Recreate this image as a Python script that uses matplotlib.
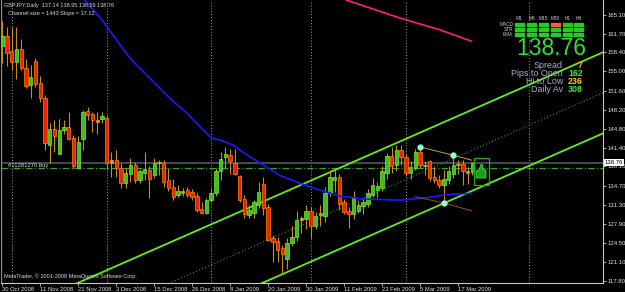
import numpy as np
import matplotlib.pyplot as plt
from matplotlib.patches import Rectangle, Polygon
import matplotlib.transforms as mtransforms

plt.rcParams['font.family'] = ['Liberation Sans', 'DejaVu Sans']

# daily GBPJPY bars, 30 Oct 2008 .. 20 Mar 2009
opens = [159.5, 161.3, 158.6, 156.6, 159.0, 155.6, 152.6, 156.9, 153.0, 150.2,
         142.0, 144.8, 140.4, 144.6, 145.1, 143.1, 137.9, 142.9, 148.0, 147.4,
         146.4, 146.5, 146.8, 138.8, 139.2, 137.8, 135.2, 136.7, 138.4, 135.7,
         137.0, 137.5, 136.5, 138.9, 138.8, 135.6, 134.4, 133.0, 133.7, 133.9,
         133.5, 132.8, 130.5, 129.8, 132.2, 133.4, 137.2, 139.8, 140.2, 138.8,
         136.4, 132.3, 129.5, 129.9, 131.2, 134.9, 130.8, 125.3, 124.9, 123.5,
         121.6, 124.4, 125.5, 128.6, 128.7, 130.2, 127.5, 129.4, 129.2, 133.3,
         135.6, 136.3, 131.7, 130.2, 129.6, 130.2, 131.1, 131.5, 133.0, 133.9,
         134.2, 136.9, 140.0, 138.4, 141.0, 139.7, 137.0, 137.9, 140.7, 138.3,
         139.0, 136.2, 135.6, 134.8, 135.7, 136.7, 138.5, 138.5, 137.2, 137.14]
highs = [164.0, 163.0, 163.0, 163.0, 160.8, 157.3, 156.1, 157.4, 154.2, 150.8,
         145.8, 146.4, 146.5, 146.4, 147.8, 143.7, 143.5, 148.1, 148.7, 147.7,
         147.8, 147.8, 147.3, 140.7, 141.1, 138.7, 137.8, 139.6, 138.9, 137.6,
         140.7, 138.1, 139.6, 139.3, 139.2, 137.8, 135.8, 134.8, 134.2, 134.5,
         134.0, 133.3, 131.8, 132.5, 134.2, 137.8, 140.7, 141.6, 141.2, 141.2,
         136.5, 133.0, 131.3, 132.2, 135.4, 136.3, 131.5, 125.9, 125.5, 124.1,
         125.4, 127.5, 130.1, 129.3, 131.3, 130.8, 130.0, 131.3, 134.4, 137.4,
         137.5, 136.8, 132.3, 130.8, 133.8, 132.0, 132.4, 134.0, 136.0, 135.3,
         138.2, 140.5, 141.6, 141.9, 141.9, 140.4, 139.0, 141.2, 141.6, 139.1,
         139.3, 138.0, 136.5, 137.5, 138.1, 140.1, 139.2, 139.2, 138.0, 138.95]
lows = [156.5, 156.0, 155.3, 153.6, 155.3, 152.0, 150.2, 152.3, 149.6, 141.0,
        138.8, 140.7, 140.4, 143.9, 142.8, 137.6, 137.8, 141.0, 146.4, 144.3,
        143.8, 145.8, 137.7, 136.3, 136.3, 134.2, 134.2, 135.4, 135.2, 135.2,
        135.7, 132.4, 136.0, 136.5, 134.5, 133.8, 132.1, 132.6, 132.8, 132.6,
        132.2, 130.0, 129.6, 129.6, 131.8, 132.8, 135.7, 137.8, 136.7, 136.5,
        131.7, 128.9, 129.0, 129.0, 130.7, 129.5, 124.8, 121.1, 121.1, 119.1,
        119.9, 124.0, 124.8, 126.3, 127.0, 125.3, 127.0, 127.5, 128.3, 132.8,
        133.6, 130.3, 129.7, 127.1, 128.8, 129.8, 129.6, 130.8, 132.7, 132.5,
        133.7, 135.8, 136.9, 137.3, 138.4, 136.4, 135.8, 137.5, 137.9, 136.5,
        135.5, 135.1, 134.2, 131.6, 135.0, 136.1, 136.7, 134.8, 134.9, 136.59]
closes = [161.3, 158.2, 156.7, 159.0, 155.7, 152.5, 154.1, 152.8, 150.2, 142.2,
          144.8, 143.6, 144.6, 145.1, 143.0, 138.1, 142.5, 147.8, 147.3, 146.4,
          146.0, 147.1, 138.7, 139.2, 137.8, 135.2, 137.0, 138.4, 135.7, 137.2,
          137.6, 135.9, 138.8, 138.7, 135.4, 134.2, 132.7, 133.8, 133.3, 133.0,
          132.7, 130.3, 129.8, 132.1, 133.4, 137.2, 139.5, 140.3, 139.1, 136.8,
          132.1, 129.6, 130.4, 131.7, 133.6, 130.7, 125.0, 124.7, 123.2, 122.5,
          124.5, 125.6, 128.6, 129.0, 130.2, 127.5, 129.3, 129.9, 133.4, 136.3,
          136.3, 131.5, 130.0, 129.6, 132.4, 131.2, 131.8, 133.3, 134.8, 134.6,
          137.2, 140.0, 138.2, 141.0, 139.7, 137.0, 138.0, 140.7, 138.4, 138.1,
          136.0, 135.6, 134.8, 135.9, 137.3, 138.4, 138.3, 137.2, 137.0, 138.76]

date_labels = ['30 Oct 2008', '11 Nov 2008', '21 Nov 2008', '3 Dec 2008', '15 Dec 2008',
               '26 Dec 2008', '8 Jan 2009', '20 Jan 2009', '30 Jan 2009', '11 Feb 2009',
               '23 Feb 2009', '5 Mar 2009', '17 Mar 2009']
month_start_bars = [2, 22, 44, 65, 85, 111]
price_ticks = [165.10, 161.70, 158.40, 155.00, 151.60, 148.20, 144.80, 141.40,
               138.10, 134.70, 131.30, 127.90, 124.50, 121.10, 117.80]

# moving averages (blue, magenta) sampled along the line
ma_bar = [17.4, 21.0, 25.9, 27.3, 35.7, 38.9, 42.3, 44.1, 45.9, 48.6, 51.1, 54.3,
          58.5, 62.7, 66.9, 71.2, 76.4, 83.8, 89.1, 93.7, 98.8]
ma_val = [167.7, 164.2, 158.5, 157.0, 149.9, 147.6, 144.6, 143.1, 142.8, 141.9, 140.4,
          138.7, 136.5, 135.1, 133.9, 132.8, 132.3, 132.1, 132.5, 133.1, 133.3]
ma2_bar = [72.5, 83.8, 92.2, 98.8]
ma2_val = [167.7, 164.5, 162.4, 160.4]

# channel: anchor point, slope and size in price units
chan_bar0, chan_price0 = 16.03, 117.41
chan_slope = 0.3712
chan_size = 14.43

bid = 138.76
order_price = 137.77
order_label = '#11281270 buy'

zz_top_bar = [87.9, 94.9, 98.9]
zz_top_val = [141.6, 140.1, 139.2]
zz_low_bar = [87.0, 93.0, 98.9]
zz_low_val = [132.7, 131.6, 130.2]

W, H = 625, 292
fig = plt.figure(figsize=(W / 100, H / 100), dpi=100, facecolor='black')
ax = fig.add_axes([1 / W, 9.3 / H, 601.5 / W, 282.7 / H])
ax.set_facecolor('black')
ax.set_xlim(-0.25, 126.4)
ax.set_ylim(117.41, 167.72)

n = len(opens)
idx = np.arange(n)
o, h, l, c = map(np.array, (opens, highs, lows, closes))

for m in month_start_bars:
    ax.axvline(m, color='#9a9a9a', lw=0.7, ls=(0, (1, 2)), zorder=1)

x = np.array([-5, 135])
upper = chan_price0 + chan_slope * (x - chan_bar0)
ax.plot(x, upper, color='#66ee11', lw=1.3, zorder=2)
ax.plot(x, upper - chan_size, color='#66ee11', lw=1.3, zorder=2)
ax.plot(x, upper - chan_size / 2, color='#3a9a12', lw=0.8, ls=(0, (1, 2)), zorder=2)

ax.axhline(bid, color='#4a505c', lw=1.3, zorder=1)
ax.axhline(order_price, color='#22aa22', lw=0.8, ls=(0, (6, 2, 1, 2)), zorder=1)

# candles
ax.vlines(idx, l, h, color='#c8901a', lw=0.8, zorder=3)
bull = c >= o
small = np.abs(c - o) < 0.45
body_lo = np.minimum(o, c)
body_h = np.maximum(np.abs(c - o), 0.25)
face = np.where(bull, '#44bb22', '#ee2200')
edge = np.where(bull, '#77ee33', '#ff8800')
face = np.where(small, '#e0a020', face)
edge = np.where(small, '#e0a020', edge)
ax.bar(idx, body_h, bottom=body_lo, width=0.7, color=face, edgecolor=edge,
       linewidth=0.5, zorder=4)

ax.plot(ma_bar, ma_val, color='#1a1aff', lw=1.2, zorder=5)
ax.plot(ma2_bar, ma2_val, color='#ff1a8c', lw=1.2, zorder=5)

ax.plot(zz_top_bar, zz_top_val, color='#c89a50', lw=0.7, zorder=6)
ax.plot(zz_low_bar, zz_low_val, color='#a04a2a', lw=0.7, zorder=6)
ax.plot([zz_top_bar[0], zz_top_bar[1], zz_low_bar[1]],
        [zz_top_val[0], zz_top_val[1], zz_low_val[1]], 'o', color='#8fffd8',
        ms=3.5, zorder=7)

# trade-signal box with a thumbs-up sign
ax.add_patch(Rectangle((99.25, 134.8), 3.15, 4.75, fill=False, edgecolor='#22aa22',
                       lw=0.9, zorder=7))


def fpx(px, py):
    return (px / W, 1 - py / H)


thumb = [fpx(476, 178), fpx(476, 171), fpx(479, 170), fpx(481, 164.5), fpx(483, 165),
         fpx(482.5, 169.5), fpx(486, 170), fpx(486, 178)]
fig.patches.append(Polygon(thumb, closed=True, transform=fig.transFigure,
                           facecolor='#1f9a1f', edgecolor='#44dd44', lw=0.6))

# axes frame
for s in ('top', 'left'):
    ax.spines[s].set_visible(False)
ax.spines['right'].set_color('#c8c8c8')
ax.spines['bottom'].set_color('#c8c8c8')
ax.spines['right'].set_linewidth(0.8)
ax.spines['bottom'].set_linewidth(0.8)
ax.axvline(-0.25, color='#8a8a8a', lw=1.0, zorder=1)

ax.yaxis.tick_right()
ax.set_yticks(price_ticks)
ax.set_yticklabels([f'{p:.2f}' for p in price_ticks])
ax.tick_params(axis='y', length=2.5, width=0.6, color='#c8c8c8', labelsize=4.3,
               labelcolor='#e0e0e0', pad=1)
ax.set_xticks(np.arange(len(date_labels)) * 8)
ax.set_xticklabels(date_labels, ha='left')
ax.tick_params(axis='x', length=2.5, width=0.6, color='#c8c8c8', labelsize=4.2,
               labelcolor='#e0e0e0', pad=0.5)

trans = mtransforms.blended_transform_factory(ax.transAxes, ax.transData)
ax.text(1.004, bid, f'{bid:.2f}', transform=trans, fontsize=4.3, color='black',
        va='center', ha='left',
        bbox=dict(boxstyle='square,pad=0.15', fc='white', ec='none'), zorder=10, clip_on=False)
ax.text(1.2, order_price + 0.55, order_label, color='#d8d8d8', fontsize=4.2,
        va='center', ha='left', zorder=9)


def ftext(px, py, s, **kw):
    fig.text(px / W, 1 - py / H, s, **kw)


ftext(4, 6, 'GBPJPY,Daily  137.14 138.95 136.59 138.76', color='#d8d8d8',
      fontsize=4.0, va='center')
ftext(8, 13, 'Channel size = 1443 Slope = 37.12', color='#d8d8d8', fontsize=4.0,
      va='center')
ftext(4, 276, 'MetaTrader, \u00a9 2001-2008 MetaQuotes Software Corp.', color='#d8d8d8',
      fontsize=4.0, va='center')

# info panel
tf_names = ['M1', 'M5', 'M15', 'M30', 'H1', 'H4']
row_names = ['MACD', 'STR', 'EMA']
col_x = [515, 527.3, 539.3, 550.7, 562.7, 574]
row_y = [23.3, 28.3, 32.6]
for cx, name in zip(col_x, tf_names):
    ftext(cx + 4.5, 18, name, color='#c8c8c8', fontsize=3.4, ha='center', va='center')
for ry, name in zip(row_y, row_names):
    ftext(513, ry + 1.4, name, color='#c8c8c8', fontsize=3.4, ha='right', va='center')
    for k, cx in enumerate(col_x):
        col = '#ff5a4a' if (name == 'MACD' and tf_names[k] == 'M30') else '#22cc22'
        fig.patches.append(Rectangle((cx / W, 1 - (ry + 3) / H), 9 / W, 3 / H,
                                     transform=fig.transFigure, color=col))
ftext(516, 48.5, f'{bid:.2f}', color='#33dd33', fontsize=16.5, va='center')

info_names = ['Spread', 'Pips to Open', 'Hi to Low', 'Daily Av']
info_vals = ['7', '162', '236', '308']
info_cols = ['#ffbb00', '#33ee33', '#ffcc00', '#33ee33']
for k, (nm, v, cl) in enumerate(zip(info_names, info_vals, info_cols)):
    yy = 66 + k * 7.9
    ftext(563, yy, nm, color='#a8b0c8', fontsize=6.4, ha='right', va='center')
    ftext(583, yy, v, color=cl, fontsize=6.4, ha='right', va='center', weight='bold')

fig.savefig('out.png', dpi=100, facecolor='black')
